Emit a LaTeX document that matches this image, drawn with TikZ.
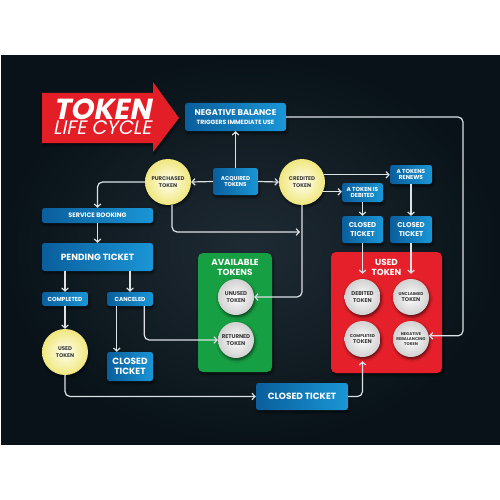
\documentclass[tikz,border=0pt]{standalone}
\usepackage{fontspec}
\setmainfont{Poppins}
\newfontfamily\ttlfont{Poppins}[FakeSlant=0.2]
\usetikzlibrary{arrows.meta,shadows.blur,calc}
\definecolor{bL}{HTML}{0A5E9C}
\definecolor{bR}{HTML}{1A96D6}
\definecolor{gboxc}{HTML}{17A043}
\definecolor{rboxc}{HTML}{E6202A}
\definecolor{bgin}{HTML}{1F2B34}
\definecolor{bgout}{HTML}{081218}
\definecolor{lineclr}{HTML}{DDE2E6}
\definecolor{ylw}{HTML}{F0E77E}
\definecolor{ctext}{HTML}{3A3A3A}
\definecolor{tred}{HTML}{E31E26}
\begin{document}
\begin{tikzpicture}[x=1pt,y=-1pt,
  shad/.style={blur shadow={shadow xshift=1pt, shadow yshift=-2pt, shadow opacity=60, shadow blur radius=2.5pt}},
  bbox/.style={rounded corners=2.5pt, left color=bL, right color=bR, text=white, font=\bfseries, inner sep=0pt, align=center, shad},
  ycirc/.style={circle, inner sep=0pt, minimum size=46pt, inner color=yellow!6!white, outer color=ylw, text=ctext, font=\bfseries\fontsize{5.4}{6.6}\selectfont, align=center, shad},
  wcirc/.style={circle, inner sep=0pt, minimum size=36pt, inner color=white, outer color=black!18, text=ctext, font=\bfseries\fontsize{5.5}{6.6}\selectfont, align=center, shad},
  arr/.style={draw=lineclr, line width=1.2pt, rounded corners=5pt, -{Straight Barb[length=3pt,width=6.5pt,line width=1.2pt]}},
  ttl/.style={text=white, font=\bfseries\fontsize{8.8}{9.5}\selectfont, align=center, inner sep=0pt},
]
\useasboundingbox (0,0) rectangle (500,500);
\fill[white] (0,0) rectangle (500,500);
\shade[inner color=bgin, outer color=bgout] (1,56) rectangle (500,444);

% title arrow
\fill[tred, shad] (42,93) -- (153,93) -- (153,82) -- (179,118) -- (153,152) -- (153,143) -- (42,143) -- cycle;
\node[text=white, font=\ttlfont, inner sep=0pt, align=left, anchor=west] (title) at (53,116.5)
  {\fontsize{29}{29}\selectfont\bfseries TOKEN\\\fontsize{19.5}{20.5}\selectfont\mdseries LIFE CYCLE};

% containers
\node[rounded corners=5pt, fill=gboxc, minimum width=74pt, minimum height=119pt, shad] (avail) at (235,312.5) {};
\node[ttl] (availT) at (235,267.5) {AVAILABLE\\TOKENS};
\node[rounded corners=5pt, fill=rboxc, minimum width=111pt, minimum height=121pt, shad] (used) at (386.5,312.5) {};
\node[ttl] (usedT) at (386.5,267.5) {USED\\TOKEN};

% blue boxes
\node[bbox, minimum width=101pt, minimum height=28pt, font=\bfseries\fontsize{8.3}{9.5}\selectfont] (neg) at (235.5,117) {NEGATIVE BALANCE\\\fontsize{6.1}{7.2}\selectfont TRIGGERS IMMEDIATE USE};
\node[bbox, minimum width=45pt, minimum height=27pt, font=\bfseries\fontsize{5.6}{6.8}\selectfont] (acq) at (235.5,181.5) {ACQUIRED\\TOKENS};
\node[bbox, minimum width=111pt, minimum height=15pt, font=\bfseries\fontsize{6.4}{7.4}\selectfont] (svc) at (97.5,215.5) {SERVICE BOOKING};
\node[bbox, minimum width=111pt, minimum height=28pt, font=\bfseries\fontsize{9}{10}\selectfont] (pend) at (97.5,257) {PENDING TICKET};
\node[bbox, minimum width=46pt, minimum height=14pt, font=\bfseries\fontsize{5.8}{6.8}\selectfont] (compl) at (65,299) {COMPLETED};
\node[bbox, minimum width=46pt, minimum height=14pt, font=\bfseries\fontsize{5.8}{6.8}\selectfont] (canc) at (130,299) {CANCELED};
\node[bbox, minimum width=46pt, minimum height=29pt, font=\bfseries\fontsize{9}{10}\selectfont] (closedL) at (130,366.5) {CLOSED\\TICKET};
\node[bbox, minimum width=42pt, minimum height=19pt, font=\bfseries\fontsize{5.8}{6.8}\selectfont] (renew) at (411,174.5) {A TOKENS\\RENEWS};
\node[bbox, minimum width=41pt, minimum height=19pt, font=\bfseries\fontsize{5.8}{6.8}\selectfont] (debit) at (362.5,192.5) {A TOKEN IS\\DEBITED};
\node[bbox, minimum width=41pt, minimum height=27pt, font=\bfseries\fontsize{7}{8.2}\selectfont] (closed1) at (362.5,229.5) {CLOSED\\TICKET};
\node[bbox, minimum width=42pt, minimum height=27pt, font=\bfseries\fontsize{7}{8.2}\selectfont] (closed2) at (411,229.5) {CLOSED\\TICKET};
\node[bbox, minimum width=92pt, minimum height=27pt, font=\bfseries\fontsize{9}{10}\selectfont] (closedB) at (302,396.5) {CLOSED TICKET};

% yellow circles
\node[ycirc] (purch) at (168,182) {PURCHASED\\TOKEN};
\node[ycirc] (cred) at (302,182) {CREDITED\\TOKEN};
\node[ycirc] (usedY) at (65,352) {USED\\TOKEN};

% white circles
\node[wcirc] (unused) at (236,297) {UNUSED\\TOKEN};
\node[wcirc] (returned) at (236,340) {RETURNED\\TOKEN};
\node[wcirc] (debited) at (362.5,297) {DEBITED\\TOKEN};
\node[wcirc] (unclaimed) at (411,297) {{\fontsize{4.2}{5.6}\selectfont UNCLAIMED}\\TOKEN};
\node[wcirc] (complT) at (362.5,339) {{\fontsize{4.2}{5.6}\selectfont COMPLETED}\\TOKEN};
\node[wcirc, font=\bfseries\fontsize{4.1}{5.1}\selectfont] (negreb) at (411,339) {NEGATIVE\\REBALANCING\\TOKEN};

% connectors
\coordinate (j1) at (300,232);
\coordinate (rc) at (463,0);
\draw[arr] (acq.north) -- (neg.south);
\draw[arr] (acq.west) -- (purch.east);
\draw[arr] (acq.east) -- (cred.west);
\draw[arr] (purch.west) -| (svc.north);
\draw[arr] (purch.-80) |- (j1);
\draw[arr] (cred.south) |- (unused.east);
\draw[arr] (cred.18) -- (cred.18 -| renew.west);
\draw[arr] (cred.-25) -- (cred.-25 -| debit.west);
\draw[arr] (debit.south) -- (closed1.north);
\draw[arr] (renew.south) -- (closed2.north);
\draw[arr, shorten >=5pt] (closed1.south) -- (debited.north);
\draw[arr, shorten >=5pt] (closed2.south) -- (unclaimed.north);
\draw[arr] (neg.east) -- (neg.east -| rc) -- (rc |- negreb.10) -- (negreb.10);
\draw[arr] (svc.south) -- (pend.north);
\draw[arr] (pend.south -| compl.north) -- (compl.north);
\draw[arr] (pend.south -| canc.north) -- (canc.north);
\draw[arr] (compl.south) -- (usedY.north);
\draw[arr] ($(canc.south west)+(10,0)$) -- ($(closedL.north west)+(10,0)$);
\draw[arr] ($(canc.south east)+(-9,0)$) |- (returned.west);
\draw[arr] (usedY.south) |- (closedB.west);
\draw[arr, shorten >=4pt] (closedB.east) -| (complT.south);
\end{tikzpicture}
\end{document}
